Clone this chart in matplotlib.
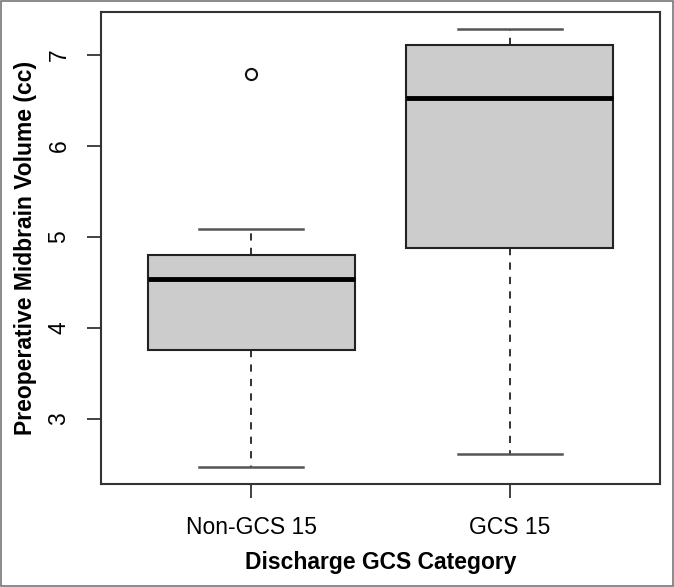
import matplotlib
matplotlib.use("Agg")
import matplotlib.pyplot as plt
from matplotlib.patches import Rectangle

plt.rcParams['font.family'] = ['Liberation Sans', 'DejaVu Sans']

# five-number summaries
groups = ["Non-GCS 15", "GCS 15"]
whisker_lo = [2.47, 2.61]
q1 = [3.75, 4.87]
medians = [4.53, 6.52]
q3 = [4.80, 7.11]
whisker_hi = [5.08, 7.28]
outliers = [[6.79], []]

stats = []
for i, name in enumerate(groups):
    stats.append(dict(label=name, whislo=whisker_lo[i], q1=q1[i], med=medians[i],
                      q3=q3[i], whishi=whisker_hi[i], fliers=outliers[i]))

fig = plt.figure(figsize=(6.74, 5.87), dpi=100)
ax = fig.add_axes([0.1499, 0.1755, 0.8294, 0.8041])

ax.bxp(stats, positions=[1, 2], widths=0.8, patch_artist=True,
       boxprops=dict(facecolor='#cccccc', edgecolor='#222222', linewidth=1.5),
       medianprops=dict(color='black', linewidth=3.5),
       whiskerprops=dict(color='#222222', linewidth=1.3, linestyle=(0, (4, 4))),
       capprops=dict(color='#555555', linewidth=1.8),
       capwidths=0.4,
       flierprops=dict(marker='o', markerfacecolor='white', markeredgecolor='#111111',
                       markersize=8, markeredgewidth=1.5))

ax.set_xlim(0.42, 2.58)
ax.set_ylim(2.282, 7.468)
ax.set_yticks([3, 4, 5, 6, 7])
ax.set_yticklabels(['3', '4', '5', '6', '7'], rotation=90, va='center')
ax.set_xticks([1, 2])
ax.set_xticklabels(groups)
ax.tick_params(axis='both', labelsize=16.5, length=10, width=1.3, color='#333333')
ax.tick_params(axis='y', pad=12)
ax.tick_params(axis='x', pad=13)
for s in ax.spines.values():
    s.set_linewidth(1.5)
    s.set_color('#333333')

ax.set_xlabel("Discharge GCS Category", fontsize=16.5, fontweight='bold')
ax.set_ylabel("Preoperative Midbrain Volume (cc)", fontsize=16.5, fontweight='bold')
ax.xaxis.label.set_va('center')
ax.yaxis.label.set_va('center')
ax.xaxis.set_label_coords(0.5, -0.166)
ax.yaxis.set_label_coords(-0.135, 0.5)

# thin frame around the whole picture
fig.patches.append(Rectangle((0.001, 0.001), 0.997, 0.997, transform=fig.transFigure,
                             fill=False, edgecolor='#777777', linewidth=1.2))

fig.savefig("out.png", dpi=100)
